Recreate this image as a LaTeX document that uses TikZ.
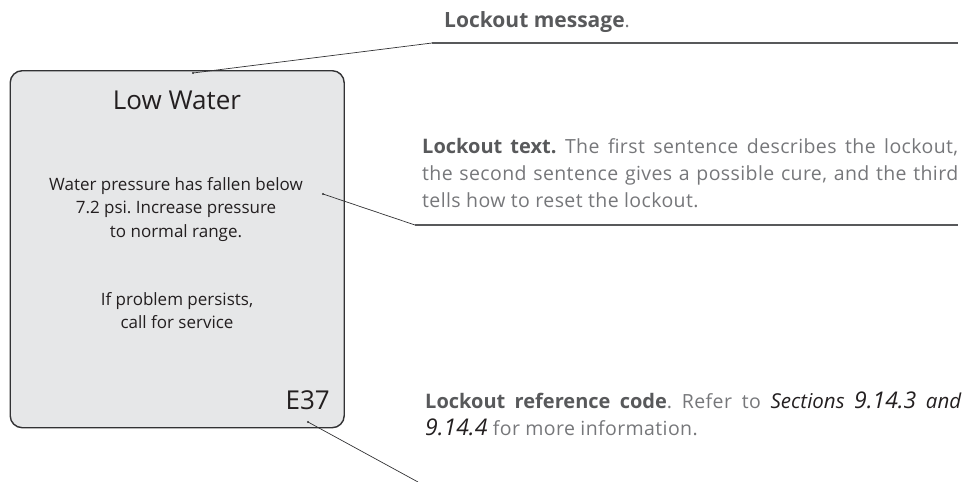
\documentclass[tikz,border=0pt]{standalone}
\usepackage{fontspec}
\setmainfont{Open Sans}
\newfontfamily\notefont{Open Sans}[LetterSpace=2]
\usetikzlibrary{positioning}
\frenchspacing
\definecolor{panel}{RGB}{230,231,232}
\definecolor{ink}{RGB}{35,31,32}
\definecolor{rim}{RGB}{50,50,52}
\definecolor{boldgray}{RGB}{88,89,91}
\definecolor{lightgray}{RGB}{118,119,122}
\newcommand{\hd}[2]{{\normalfont\bfseries\fontsize{#1}{27}\selectfont\color{boldgray}#2}}
\newcommand{\secref}[1]{{\normalfont\itshape\fontsize{20.5}{27}\selectfont\color{ink}#1}}
\newcommand{\secnum}[1]{{\fontsize{23}{27}\selectfont #1}}
\tikzset{
  screen/.style={draw=rim,line width=1.4pt,rounded corners=12pt,fill=panel,minimum width=334pt,minimum height=357pt,inner sep=0pt},
  scrtext/.style={text=ink,align=center,inner sep=0pt,font=\fontsize{17}{23.4}\selectfont},
  note/.style={text=lightgray,inner sep=0pt,text width=536pt,align=justify,font=\notefont\fontsize{19.5}{27}\selectfont},
  leader/.style={draw=rim,line width=0.7pt},
  rule/.style={draw=boldgray,line width=1.1pt}
}

\begin{document}
\begin{tikzpicture}[x=1pt,y=-1pt]
  \useasboundingbox (0,0) rectangle (964,482);
  % the lockout screen
  \node[screen,anchor=north west] (screen) at (9.5,70) {};
  \node[scrtext,anchor=base,font=\fontsize{26}{30}\selectfont] (title) at (177,109) {Low Water};
  \node[scrtext,anchor=north] (msg) at (176,177) {Water pressure has fallen below\\7.2 psi. Increase pressure\\to normal range.};
  \node[scrtext,anchor=north] (hint) at (177,292) {If problem persists,\\call for service};
  \node[scrtext,anchor=base east,font=\fontsize{26}{30}\selectfont] (code) at (330,409) {E37};
  % callouts
  \node[note,text width=,align=left,anchor=base west] (msgnote) at (444,27) {\hd{21}{Lockout message}.};
  \node[note,anchor=north west] (textnote) at (422,138) {\hd{20}{Lockout text.} The first sentence describes the lockout,\linebreak the second sentence gives a possible cure, and the third\linebreak tells how to reset the lockout.};
  \node[note,anchor=north west] (codenote) at (425,392) {\hd{20}{Lockout reference code}. Refer to \secref{Sections \secnum{9.14.3} and}\linebreak \secref{\secnum{9.14.4}} for more information.};
  % leader lines
  \coordinate (msgtip) at (193,73);
  \coordinate (msgknee) at (432,43);
  \coordinate (msgend) at (958,43);
  \coordinate (texttip) at (323,194);
  \coordinate (textknee) at (415,225);
  \coordinate (textend) at (958,225);
  \coordinate (codetip) at (308,422);
  \coordinate (codeend) at (418,482);
  \draw[leader] (msgtip) -- (msgknee);
  \draw[rule] (msgknee) -- (msgend);
  \draw[leader] (texttip) -- (textknee);
  \draw[rule] (textknee) -- (textend);
  \draw[leader] (codetip) -- (codeend);
  \fill[rim] (msgtip) circle (1.2pt) (texttip) circle (1.2pt) (codetip) circle (1.2pt);
\end{tikzpicture}
\end{document}
